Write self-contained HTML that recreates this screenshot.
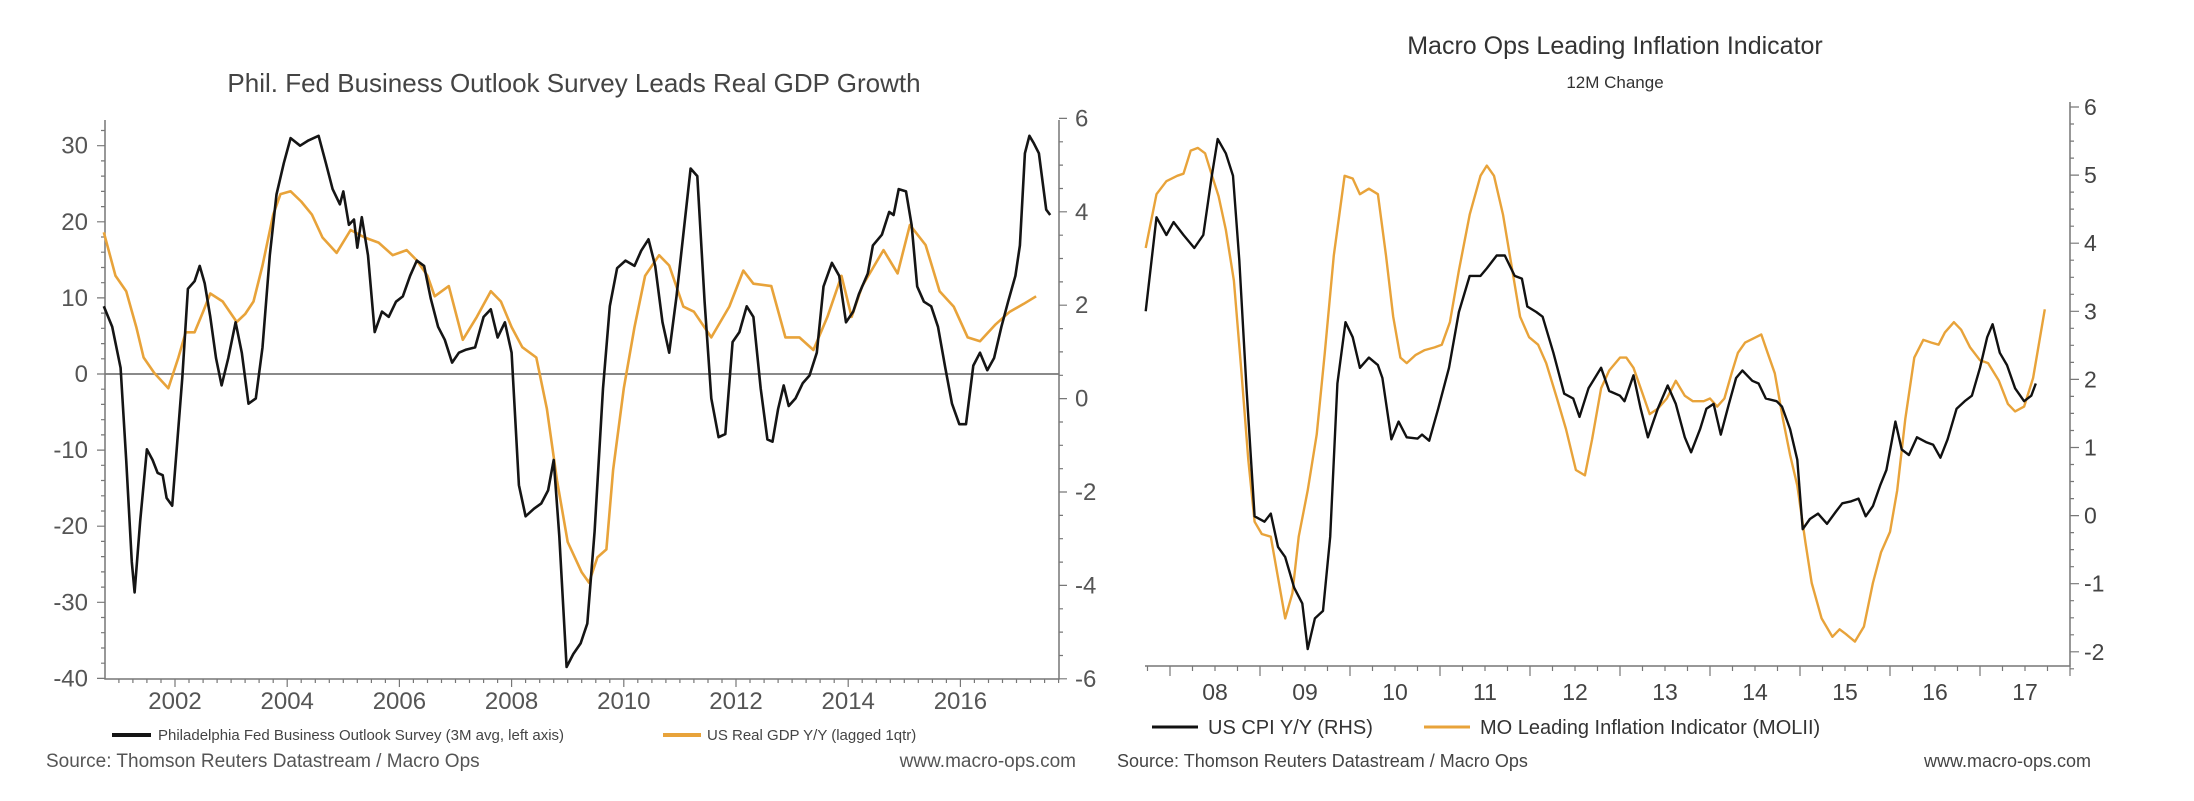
<!DOCTYPE html>
<html><head><meta charset="utf-8">
<style>
html,body{margin:0;padding:0;background:#fff;}
svg{display:block;font-family:"Liberation Sans",Arial,sans-serif;}
</style></head>
<body>
<svg id="chart" width="2194" height="801" viewBox="0 0 2194 801" xmlns="http://www.w3.org/2000/svg">
<g id="left"></g>
<g id="right"></g>
</svg>
<script>
// ---- Left chart data ----
const phillyT = [2000.73,2000.88,2001.03,2001.13,2001.23,2001.28,2001.38,2001.5,2001.6,2001.69,2001.78,2001.85,2001.95,2002.03,2002.13,2002.23,2002.35,2002.44,2002.53,2002.63,2002.73,2002.83,2002.95,2003.08,2003.19,2003.31,2003.44,2003.56,2003.69,2003.81,2003.94,2004.06,2004.23,2004.38,2004.56,2004.69,2004.81,2004.94,2005.0,2005.1,2005.19,2005.25,2005.33,2005.44,2005.56,2005.69,2005.81,2005.94,2006.06,2006.19,2006.31,2006.44,2006.56,2006.69,2006.81,2006.94,2007.06,2007.19,2007.35,2007.5,2007.63,2007.75,2007.88,2008.0,2008.13,2008.25,2008.4,2008.53,2008.65,2008.75,2008.85,2008.98,2009.1,2009.23,2009.35,2009.48,2009.63,2009.75,2009.88,2010.03,2010.19,2010.31,2010.44,2010.56,2010.69,2010.81,2010.94,2011.06,2011.19,2011.31,2011.44,2011.56,2011.69,2011.81,2011.94,2012.06,2012.19,2012.31,2012.44,2012.56,2012.65,2012.75,2012.85,2012.94,2013.06,2013.19,2013.31,2013.44,2013.56,2013.71,2013.84,2013.96,2014.09,2014.19,2014.35,2014.44,2014.6,2014.73,2014.81,2014.9,2015.03,2015.13,2015.23,2015.35,2015.48,2015.6,2015.73,2015.85,2015.98,2016.1,2016.23,2016.35,2016.48,2016.6,2016.73,2016.85,2016.98,2017.06,2017.15,2017.23,2017.31,2017.4,2017.53,2017.6];
const phillyV = [8.9,6.2,0.8,-11.3,-24.7,-28.7,-19.3,-9.9,-11.3,-13,-13.3,-16.3,-17.3,-9.9,-0.5,11.2,12.2,14.2,11.9,7.5,2.1,-1.5,2.1,6.8,2.8,-3.9,-3.2,3.5,15.6,23.6,27.7,31,30,30.7,31.3,27.7,24.3,22.3,24,19.6,20.3,16.6,20.6,15.6,5.5,8.2,7.5,9.5,10.2,12.9,14.9,14.2,9.9,6.2,4.5,1.5,2.8,3.2,3.5,7.5,8.5,4.8,6.8,2.8,-14.6,-18.7,-17.7,-17,-15.3,-11.3,-21.3,-38.5,-36.8,-35.4,-32.8,-20.7,-1.9,8.9,13.9,14.9,14.2,16.2,17.7,14.2,6.8,2.8,10.2,18.3,27,26,9.5,-3.2,-8.3,-7.9,4.2,5.5,8.9,7.5,-1.9,-8.6,-8.9,-4.6,-1.5,-4.2,-3.2,-1.2,-0.2,2.8,11.5,14.6,12.9,6.8,8.2,10.5,13.2,16.9,18.3,21.3,20.9,24.3,24,19.6,11.5,9.5,8.9,6.2,0.8,-3.9,-6.6,-6.6,1.1,2.8,0.5,2.1,6.2,9.5,12.9,16.9,29,31.3,30.3,29,21.6,20.9];
const gdpT = [2000.73,2000.94,2001.13,2001.31,2001.44,2001.63,2001.88,2002.06,2002.19,2002.35,2002.5,2002.63,2002.85,2003.1,2003.25,2003.4,2003.56,2003.75,2003.88,2004.06,2004.25,2004.44,2004.63,2004.88,2005.13,2005.38,2005.63,2005.88,2006.13,2006.31,2006.5,2006.63,2006.88,2007.13,2007.38,2007.63,2007.81,2008.0,2008.19,2008.44,2008.63,2008.81,2009.0,2009.25,2009.38,2009.53,2009.69,2009.81,2010.0,2010.19,2010.38,2010.63,2010.81,2011.06,2011.25,2011.56,2011.88,2012.13,2012.31,2012.63,2012.88,2013.13,2013.38,2013.63,2013.88,2014.06,2014.25,2014.63,2014.88,2015.1,2015.38,2015.63,2015.88,2016.13,2016.35,2016.63,2016.88,2017.13,2017.35];
const gdpV = [3.56,2.63,2.3,1.53,0.88,0.55,0.22,0.88,1.42,1.42,1.86,2.25,2.08,1.64,1.81,2.08,2.85,3.94,4.38,4.44,4.22,3.94,3.45,3.12,3.61,3.45,3.34,3.07,3.18,2.96,2.63,2.19,2.41,1.26,1.75,2.3,2.08,1.53,1.1,0.88,-0.22,-1.75,-3.07,-3.72,-3.94,-3.4,-3.23,-1.53,0.22,1.53,2.63,3.07,2.85,1.97,1.86,1.31,1.97,2.74,2.46,2.41,1.31,1.31,1.04,1.75,2.63,1.75,2.41,3.18,2.68,3.72,3.29,2.3,1.97,1.31,1.23,1.59,1.86,2.03,2.19];
const leftTicks = [30,20,10,0,-10,-20,-30,-40];
const rightTicksL = [6,4,2,0,-2,-4,-6];
const yearTicksL = [2002,2004,2006,2008,2010,2012,2014,2016];

// ---- Right chart data ----
const cpiT = [2007.73,2007.85,2007.96,2008.04,2008.15,2008.27,2008.37,2008.46,2008.53,2008.62,2008.7,2008.77,2008.85,2008.94,2009.05,2009.12,2009.2,2009.28,2009.38,2009.47,2009.53,2009.61,2009.7,2009.78,2009.86,2009.95,2010.03,2010.11,2010.21,2010.31,2010.36,2010.46,2010.54,2010.63,2010.75,2010.8,2010.88,2010.98,2011.1,2011.21,2011.33,2011.45,2011.52,2011.63,2011.72,2011.83,2011.91,2011.97,2012.07,2012.14,2012.26,2012.38,2012.48,2012.55,2012.65,2012.79,2012.88,2013.0,2013.05,2013.15,2013.23,2013.31,2013.42,2013.53,2013.62,2013.72,2013.79,2013.89,2013.96,2014.04,2014.12,2014.21,2014.29,2014.36,2014.47,2014.54,2014.62,2014.74,2014.8,2014.89,2014.97,2015.03,2015.11,2015.2,2015.3,2015.4,2015.47,2015.57,2015.65,2015.73,2015.81,2015.89,2015.96,2016.06,2016.13,2016.21,2016.3,2016.4,2016.48,2016.56,2016.64,2016.74,2016.83,2016.91,2017.0,2017.08,2017.14,2017.22,2017.3,2017.39,2017.49,2017.57,2017.62];
const cpiV = [3.0,4.38,4.12,4.31,4.12,3.93,4.12,4.95,5.53,5.32,4.99,3.75,1.87,-0.01,-0.09,0.03,-0.46,-0.61,-1.06,-1.29,-1.96,-1.51,-1.4,-0.31,1.94,2.84,2.62,2.17,2.32,2.21,2.02,1.12,1.38,1.15,1.13,1.19,1.1,1.57,2.17,2.99,3.52,3.52,3.63,3.82,3.82,3.52,3.48,3.07,2.99,2.92,2.39,1.79,1.72,1.45,1.87,2.17,1.83,1.76,1.68,2.06,1.57,1.15,1.57,1.91,1.64,1.15,0.93,1.27,1.57,1.64,1.19,1.64,2.02,2.13,1.98,1.94,1.72,1.68,1.6,1.27,0.82,-0.2,-0.05,0.03,-0.12,0.06,0.18,0.21,0.25,-0.01,0.14,0.44,0.67,1.38,0.97,0.89,1.15,1.08,1.04,0.85,1.12,1.57,1.68,1.76,2.17,2.62,2.81,2.39,2.21,1.87,1.68,1.76,1.94];
const moliiT = [2007.73,2007.85,2007.96,2008.08,2008.15,2008.23,2008.31,2008.39,2008.46,2008.54,2008.62,2008.71,2008.79,2008.87,2008.94,2009.02,2009.12,2009.2,2009.28,2009.36,2009.43,2009.53,2009.63,2009.72,2009.82,2009.94,2010.03,2010.11,2010.21,2010.31,2010.4,2010.48,2010.56,2010.63,2010.73,2010.83,2010.94,2011.02,2011.11,2011.21,2011.33,2011.45,2011.52,2011.6,2011.7,2011.8,2011.89,2011.99,2012.09,2012.18,2012.3,2012.4,2012.51,2012.61,2012.69,2012.79,2012.88,2013.0,2013.07,2013.15,2013.23,2013.33,2013.42,2013.52,2013.62,2013.72,2013.81,2013.93,2014.0,2014.08,2014.16,2014.24,2014.31,2014.39,2014.51,2014.57,2014.64,2014.72,2014.81,2014.89,2014.97,2015.06,2015.13,2015.24,2015.36,2015.44,2015.51,2015.61,2015.71,2015.81,2015.9,2016.0,2016.08,2016.17,2016.27,2016.37,2016.46,2016.54,2016.61,2016.71,2016.79,2016.89,2017.0,2017.09,2017.21,2017.31,2017.39,2017.49,2017.59,2017.72];
const moliiV = [3.93,4.72,4.91,4.99,5.02,5.36,5.4,5.32,5.02,4.69,4.2,3.45,2.17,0.82,-0.09,-0.27,-0.31,-0.91,-1.51,-1.14,-0.31,0.37,1.19,2.39,3.82,4.99,4.95,4.72,4.8,4.72,3.82,2.92,2.32,2.24,2.36,2.43,2.47,2.51,2.84,3.6,4.42,4.99,5.14,4.99,4.42,3.63,2.92,2.62,2.51,2.24,1.72,1.27,0.67,0.59,1.12,1.87,2.13,2.32,2.32,2.17,1.87,1.49,1.57,1.72,1.98,1.76,1.68,1.68,1.72,1.6,1.72,2.09,2.39,2.54,2.62,2.66,2.39,2.09,1.42,0.89,0.44,-0.39,-0.99,-1.51,-1.78,-1.67,-1.74,-1.85,-1.63,-0.99,-0.54,-0.24,0.37,1.42,2.32,2.58,2.54,2.51,2.69,2.84,2.73,2.47,2.28,2.24,1.98,1.64,1.53,1.6,2.02,3.03];
const rightTicksR = [6,5,4,3,2,1,0,-1,-2];
const yearTicksR = [2008,2009,2010,2011,2012,2013,2014,2015,2016,2017];
const yearLabelsR = ["08","09","10","11","12","13","14","15","16","17"];

const NS = "http://www.w3.org/2000/svg";
function mk(parent, tag, attrs, text){
  const e = document.createElementNS(NS, tag);
  for (const k in attrs) e.setAttribute(k, attrs[k]);
  if (text !== undefined) e.textContent = text;
  parent.appendChild(e);
  return e;
}
function pathOf(ts, vs, xf, yf){
  return ts.map((t,i)=>(i?"L":"M")+xf(t).toFixed(1)+","+yf(vs[i]).toFixed(1)).join("");
}

// ===== LEFT =====
const L = document.getElementById("left");
const lx = t => 175 + (t-2002)*56.1;
const lyL = v => 374 - v*7.61;
const lyR = v => 398.6 - v*46.7;
const LX0=105, LX1=1059, LY0=120, LY1=679;

let e;
e = mk(L,"text",{x:574,y:92,"text-anchor":"middle","font-size":26,fill:"#444"},"Phil. Fed Business Outlook Survey Leads Real GDP Growth");
 

e = mk(L,"line",{x1:LX0,y1:lyL(0),x2:LX1,y2:lyL(0),stroke:"#8a8a8a","stroke-width":2});
 

e = mk(L,"path",{d:`M${LX0},${LY0}V${LY1}H${LX1}V${LY0}`,fill:"none",stroke:"#777","stroke-width":1.5});
 

let tk="";
for(let v=-40;v<=32;v+=2){const y=lyL(v); tk+=`M${LX0-(v%10===0?8:4)},${y.toFixed(1)}H${LX0}`;}
for(let v=-6;v<=6;v+=0.5){const y=lyR(v); tk+=`M${LX1},${y.toFixed(1)}H${LX1+(v%2===0?8:4)}`;}
for(let t=2001;t<=2017.75;t+=0.25){const x=lx(t); tk+=`M${x.toFixed(1)},${LY1}V${LY1+(Number.isInteger(t)&&t%2===0?8:4)}`;}
e = mk(L,"path",{d:tk,stroke:"#777","stroke-width":1.2,fill:"none"});
 

leftTicks.forEach(v=>{
  const t = mk(L,"text",{x:88,y:lyL(v)+8,"text-anchor":"end","font-size":24,fill:"#555"},String(v));
   
});
rightTicksL.forEach(v=>{
  const t = mk(L,"text",{x:1075,y:lyR(v)+8,"font-size":24,fill:"#555"},String(v));
   
});
yearTicksL.forEach(y=>{
  const t = mk(L,"text",{x:lx(y),y:709,"text-anchor":"middle","font-size":24,fill:"#555"},String(y));
   
});

e = mk(L,"path",{d:pathOf(gdpT,gdpV,lx,lyR),fill:"none",stroke:"#e8a33a","stroke-width":2.6,"stroke-linejoin":"round"});
 
e = mk(L,"path",{d:pathOf(phillyT,phillyV,lx,lyL),fill:"none",stroke:"#151515","stroke-width":2.6,"stroke-linejoin":"round"});
 

e = mk(L,"line",{x1:112,y1:735,x2:151,y2:735,stroke:"#151515","stroke-width":4});
 
e = mk(L,"text",{x:158,y:740,"font-size":15,fill:"#444"},"Philadelphia Fed Business Outlook Survey  (3M avg, left axis)");
 
e = mk(L,"line",{x1:663,y1:735,x2:701,y2:735,stroke:"#e8a33a","stroke-width":4});
 
e = mk(L,"text",{x:707,y:740,"font-size":15,fill:"#444"},"US Real GDP Y/Y (lagged 1qtr)");
 
e = mk(L,"text",{x:46,y:767,"font-size":19,fill:"#555"},"Source: Thomson Reuters Datastream / Macro Ops");
 
e = mk(L,"text",{x:1076,y:767,"font-size":19,fill:"#555","text-anchor":"end"},"www.macro-ops.com");
 

// ===== RIGHT =====
const R = document.getElementById("right");
const rx = t => 1170 + (t-2008)*90;
const ry = v => 107 + (6-v)*68.1;
const RX0=1145, RX1=2070, RY0=102, RY1=666;

e = mk(R,"text",{x:1615,y:54,"text-anchor":"middle","font-size":25,fill:"#333"},"Macro Ops Leading Inflation Indicator");
 
e = mk(R,"text",{x:1615,y:88,"text-anchor":"middle","font-size":17,fill:"#333"},"12M Change");
 

e = mk(R,"path",{d:`M${RX0},${RY1}H${RX1}V${RY0}`,fill:"none",stroke:"#777","stroke-width":1.5});
 
tk="";
for(let v=-2.25;v<=6.01;v+=0.25){const y=ry(v); tk+=`M${RX1},${y.toFixed(1)}H${RX1+(Math.abs(v-Math.round(v))<0.01?9:4)}`;}
for(let t=2007.75;t<=2018;t+=0.25){const x=rx(t); if(x>RX1) break; tk+=`M${x.toFixed(1)},${RY1}V${RY1+(Number.isInteger(t)?10:5)}`;}
e = mk(R,"path",{d:tk,stroke:"#777","stroke-width":1.2,fill:"none"});
 

rightTicksR.forEach(v=>{
  const t = mk(R,"text",{x:2084,y:ry(v)+8,"font-size":23,fill:"#444"},String(v));
   
});
yearTicksR.forEach((y,i)=>{
  const t = mk(R,"text",{x:rx(y+0.5),y:700,"text-anchor":"middle","font-size":23,fill:"#444"},yearLabelsR[i]);
   
});

e = mk(R,"path",{d:pathOf(moliiT,moliiV,rx,ry),fill:"none",stroke:"#e8a33a","stroke-width":2.4,"stroke-linejoin":"round"});
 
e = mk(R,"path",{d:pathOf(cpiT,cpiV,rx,ry),fill:"none",stroke:"#111","stroke-width":2.4,"stroke-linejoin":"round"});
 

e = mk(R,"line",{x1:1152,y1:727,x2:1198,y2:727,stroke:"#111","stroke-width":3});
 
e = mk(R,"text",{x:1208,y:734,"font-size":20,fill:"#333"},"US CPI Y/Y (RHS)");
 
e = mk(R,"line",{x1:1424,y1:727,x2:1470,y2:727,stroke:"#e8a33a","stroke-width":3});
 
e = mk(R,"text",{x:1480,y:734,"font-size":20,fill:"#333"},"MO Leading Inflation Indicator (MOLII)");
 
e = mk(R,"text",{x:1117,y:767,"font-size":18,fill:"#444"},"Source: Thomson Reuters Datastream / Macro Ops");
 
e = mk(R,"text",{x:2091,y:767,"font-size":18,fill:"#444","text-anchor":"end"},"www.macro-ops.com");
 
</script>
</body></html>
